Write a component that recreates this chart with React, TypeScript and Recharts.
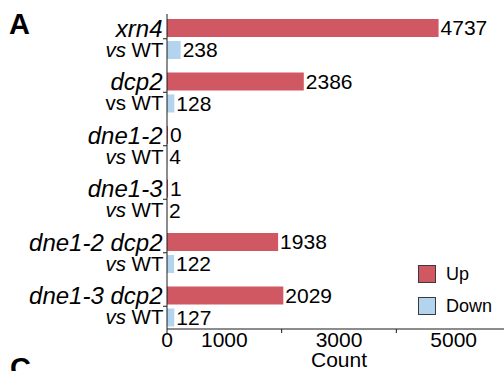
import React from 'react';
import { BarChart, Bar, XAxis, YAxis, Legend, LabelList, Label } from 'recharts';

// Differentially expressed transcripts per mutant, compared with wild type
const genotypes = ['xrn4', 'dcp2', 'dne1-2', 'dne1-3', 'dne1-2 dcp2', 'dne1-3 dcp2'];
const vsItalic = [true, false, true, true, true, true];
const upCounts = [4737, 2386, 0, 1, 1938, 2029];
const downCounts = [238, 128, 4, 2, 122, 127];
const seriesOrder = ['Up', 'Down'];

const countTickLabels = [0, 1000, 3000, 5000];
const countTickMarks = [0, 2000, 4000, 6000];
const countTicks = [0, 1000, 2000, 3000, 4000, 5000, 6000];
const countDomain = [0, 6000];

const UP_COLOR = '#cf5862';
const DOWN_COLOR = '#b3d4ee';
const AXIS_COLOR = '#1a1a1a';
const FONT = '"Liberation Sans", Arial, Helvetica, sans-serif';

const data = genotypes.map((g, i) => ({
  genotype: g,
  up: upCounts[i],
  down: downCounts[i],
}));

const GenotypeTick = (props: any) => {
  const { x, y, payload } = props;
  const idx = genotypes.indexOf(payload.value);
  const italicVs = vsItalic[idx];
  return (
    <g>
      <line x1={x - 4} x2={x} y1={y} y2={y} stroke={AXIS_COLOR} strokeWidth={1} />
      <text
        x={x - 4.5}
        y={y - 2}
        textAnchor="end"
        fontSize={24}
        fontStyle="italic"
        fontFamily={FONT}
        fill="#000"
      >
        {payload.value}
      </text>
      <text x={x - 3.5} y={y + 18} textAnchor="end" fontSize={20.5} fontFamily={FONT} fill="#000">
        <tspan fontStyle={italicVs ? 'italic' : 'normal'}>vs</tspan>
        <tspan>{' WT'}</tspan>
      </text>
    </g>
  );
};

const CountTick = (props: any) => {
  const { x, y, payload } = props;
  const v = payload.value;
  return (
    <g>
      {countTickMarks.includes(v) && (
        <line x1={x} x2={x} y1={y} y2={y + 4} stroke={AXIS_COLOR} strokeWidth={1} />
      )}
      {countTickLabels.includes(v) && (
        <text x={x} y={y + 18} textAnchor="middle" fontSize={21} fontFamily={FONT} fill="#000">
          {v}
        </text>
      )}
    </g>
  );
};

const CountLabel = (props: any) => {
  const vb = props.viewBox || {};
  return (
    <text
      x={vb.x + vb.width / 2}
      y={vb.y + 37.5}
      textAnchor="middle"
      fontSize={21}
      fontFamily={FONT}
      fill="#000"
    >
      Count
    </text>
  );
};

const LegendBox = (props: any) => {
  const items = [...(props.payload || [])].sort(
    (a: any, b: any) => seriesOrder.indexOf(a.value) - seriesOrder.indexOf(b.value)
  );
  return (
    <div style={{ fontFamily: FONT, fontSize: 18, color: '#000' }}>
      {items.map((item: any, i: number) => (
        <div
          key={item.value}
          style={{
            display: 'flex',
            alignItems: 'center',
            height: 18,
            marginBottom: i === 0 ? 13.5 : 0,
          }}
        >
          <span
            style={{
              display: 'inline-block',
              width: 18,
              height: 18,
              boxSizing: 'border-box',
              background: item.color,
              border: '1.3px solid #3a3a3a',
            }}
          />
          <span style={{ marginLeft: 10, lineHeight: '18px' }}>{item.value}</span>
        </div>
      ))}
    </div>
  );
};

export default function App() {
  return (
    <div
      style={{
        position: 'absolute',
        left: 0,
        top: 0,
        width: 504,
        height: 371,
        overflow: 'hidden',
        background: '#fff',
      }}
    >
      <BarChart
        width={512}
        height={371}
        data={data}
        layout="vertical"
        margin={{ top: 14, right: 1, left: 0, bottom: 0 }}
        barSize={18}
        barGap={4}
      >
        <XAxis
          type="number"
          domain={countDomain}
          ticks={countTicks}
          interval={0}
          tickSize={0}
          tickMargin={0}
          tickLine={false}
          axisLine={{ stroke: AXIS_COLOR, strokeWidth: 1 }}
          tick={<CountTick />}
          height={42}
        >
          <Label content={<CountLabel />} />
        </XAxis>
        <YAxis
          type="category"
          dataKey="genotype"
          width={167}
          tickSize={0}
          tickMargin={0}
          tickLine={false}
          axisLine={{ stroke: AXIS_COLOR, strokeWidth: 1 }}
          tick={<GenotypeTick />}
          interval={0}
          padding={{ top: -2, bottom: -4 }}
        />
        <Legend
          layout="vertical"
          align="center"
          verticalAlign="middle"
          wrapperStyle={{ left: 418, top: 265, width: 90, height: 60 }}
          content={<LegendBox />}
        />
        <Bar dataKey="up" name="Up" fill={UP_COLOR} minPointSize={1} isAnimationActive={false}>
          <LabelList
            dataKey="up"
            position="right"
            offset={2}
            fill="#000"
            fontSize={21}
            fontFamily={FONT}
          />
        </Bar>
        <Bar dataKey="down" name="Down" fill={DOWN_COLOR} isAnimationActive={false}>
          <LabelList
            dataKey="down"
            position="right"
            offset={2}
            fill="#000"
            fontSize={21}
            fontFamily={FONT}
          />
        </Bar>
      </BarChart>
      <svg
        width={504}
        height={371}
        style={{ position: 'absolute', left: 0, top: 0, pointerEvents: 'none' }}
      >
        <text x={9} y={34} fontSize={29} fontWeight="bold" fontFamily={FONT} fill="#000">
          A
        </text>
        <text x={10} y={378} fontSize={29} fontWeight="bold" fontFamily={FONT} fill="#000">
          C
        </text>
      </svg>
    </div>
  );
}
